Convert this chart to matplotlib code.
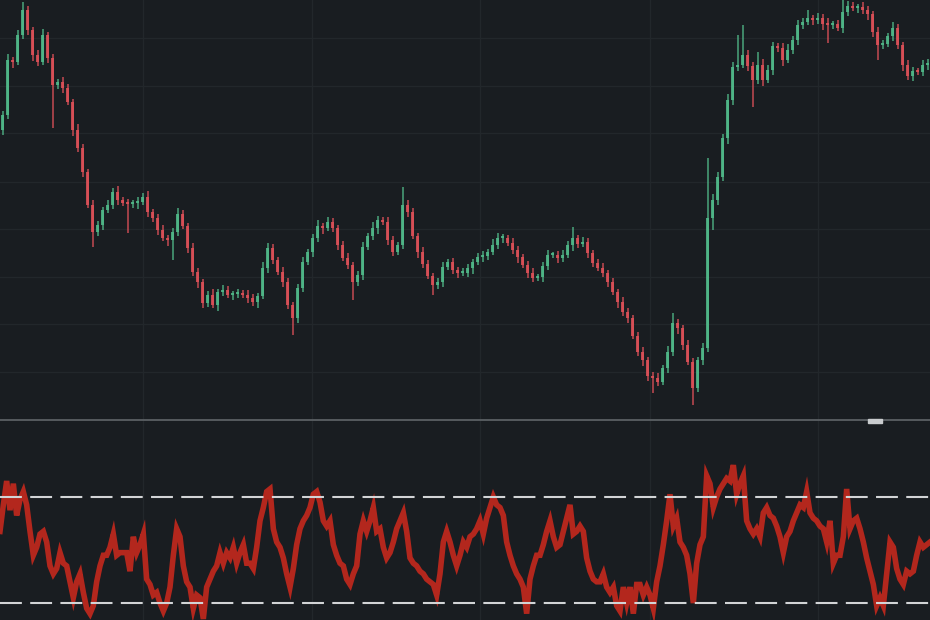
import matplotlib
matplotlib.use("Agg")
import matplotlib.pyplot as plt
import numpy as np

# price closes (arbitrary units)
first_open = 290
closes = [305, 360, 358, 385, 410, 390, 365, 358, 385, 362,
          335, 338, 332, 318, 290, 272, 248, 215, 188, 195,
          210, 215, 228, 220, 217, 216, 217, 218, 223, 208,
          202, 190, 182, 180, 188, 206, 194, 172, 148, 138,
          117, 125, 115, 128, 130, 125, 126, 127, 125, 122,
          118, 124, 152, 172, 160, 148, 138, 115, 102, 132,
          158, 168, 182, 194, 192, 198, 192, 175, 162, 155,
          138, 145, 173, 184, 192, 200, 198, 180, 168, 175,
          215, 208, 184, 168, 156, 144, 135, 138, 153, 158,
          150, 147, 147, 152, 158, 163, 164, 168, 175, 182,
          182, 177, 170, 163, 155, 147, 142, 143, 154, 165,
          165, 162, 165, 175, 182, 176, 178, 167, 157, 152,
          147, 138, 128, 118, 108, 102, 84, 68, 60, 44,
          42, 38, 52, 68, 97, 92, 75, 58, 32, 60,
          72, 202, 220, 243, 282, 320, 353, 355, 365, 354,
          340, 355, 340, 350, 374, 372, 360, 370, 380, 395,
          398, 402, 400, 402, 396, 395, 396, 392, 408, 414,
          412, 413, 410, 406, 388, 375, 376, 384, 392, 375,
          355, 344, 349, 348, 355, 357]

# wick length above / below the body
wick_up = [4, 6, 3, 5, 8, 4, 3, 5, 6, 3,
           4, 3, 5, 4, 3, 6, 4, 3, 5, 4,
           3, 5, 4, 6, 3, 4, 3, 5, 4, 6,
           3, 4, 5, 3, 4, 6, 4, 3, 5, 4,
           3, 4, 6, 3, 5, 4, 3, 4, 3, 5,
           4, 3, 6, 5, 4, 3, 5, 4, 3, 4,
           5, 3, 4, 6, 3, 5, 4, 3, 4, 5,
           3, 4, 5, 3, 6, 4, 3, 5, 4, 3,
           18, 5, 4, 3, 5, 4, 3, 4, 5, 3,
           4, 3, 5, 4, 3, 4, 5, 3, 6, 5,
           4, 3, 5, 4, 3, 4, 5, 3, 4, 5,
           3, 4, 5, 4, 11, 3, 5, 4, 3, 4,
           5, 3, 4, 3, 5, 4, 3, 4, 5, 3,
           4, 5, 3, 6, 10, 4, 3, 5, 4, 3,
           5, 60, 6, 5, 4, 6, 5, 30, 30, 5,
           4, 13, 6, 5, 4, 3, 5, 6, 4, 5,
           4, 8, 3, 5, 4, 6, 3, 4, 12, 5,
           4, 3, 5, 4, 3, 5, 4, 3, 6, 4,
           3, 5, 4, 3, 5, 4]
wick_dn = [5, 4, 6, 3, 4, 5, 6, 4, 3, 5,
           43, 4, 5, 3, 6, 4, 5, 3, 15, 4,
           5, 3, 4, 5, 3, 29, 4, 6, 3, 5,
           4, 5, 3, 6, 20, 4, 3, 5, 4, 6,
           5, 4, 3, 6, 4, 3, 5, 4, 3, 5,
           4, 6, 3, 5, 4, 3, 5, 4, 17, 5,
           4, 3, 5, 4, 6, 3, 4, 5, 3, 4,
           18, 4, 5, 3, 4, 6, 3, 5, 4, 3,
           4, 5, 3, 6, 4, 3, 10, 4, 5, 3,
           4, 5, 3, 4, 6, 3, 5, 4, 3, 4,
           5, 3, 4, 6, 3, 5, 4, 3, 5, 4,
           3, 5, 4, 3, 6, 4, 3, 5, 4, 3,
           4, 5, 3, 6, 4, 5, 3, 4, 6, 5,
           15, 4, 3, 5, 4, 6, 5, 3, 17, 4,
           5, 4, 12, 5, 4, 6, 5, 4, 3, 5,
           27, 4, 6, 3, 5, 4, 6, 3, 4, 5,
           4, 3, 5, 4, 6, 18, 4, 3, 5, 4,
           3, 5, 4, 6, 5, 15, 4, 3, 5, 4,
           6, 4, 5, 3, 4, 5]

# oscillator (RSI) values, evenly spaced across the chart
rsi = [57, 67, 76, 65, 75, 63, 69, 72, 67, 57, 48, 51, 56, 57, 53, 44, 41, 43, 49, 45,
       44, 38, 32, 38, 41, 34, 28, 26, 29, 38, 44, 48, 48, 51, 56, 48, 49, 49, 49, 42,
       55, 49, 52, 56, 39, 37, 33, 34, 30, 27, 30, 36, 48, 58, 55, 44, 38, 36, 28, 33,
       32, 24, 36, 39, 42, 44, 49, 45, 49, 47, 51, 45, 49, 52, 45, 45, 43, 51, 61, 66,
       72, 73, 58, 53, 51, 47, 41, 36, 43, 52, 58, 61, 63,
       66, 71, 72, 68, 61, 59, 61, 52, 48, 45, 44, 39, 37, 41, 44, 56, 61, 57, 61, 66,
       57, 58, 51, 47, 49, 53, 58, 61, 64, 57, 47, 45, 44, 42, 41, 39, 38, 37, 33, 41,
       53, 57, 53, 48, 44, 48, 53, 51, 55, 56, 58, 61, 56, 62, 66, 70, 67, 66, 63, 53,
       48, 44, 41, 39, 36, 26, 39, 44, 48, 48, 52, 57, 61, 55, 51, 52, 57, 62, 67, 56,
       57, 59, 57, 47, 42, 39, 38, 38, 41, 36, 34, 36, 29,
       27, 36, 30, 36, 26, 37, 37, 33, 36, 33, 28, 38, 44, 52, 61, 71, 59, 62, 53, 51,
       48, 41, 30, 45, 52, 55, 78, 75, 66, 70, 73, 75, 77, 76, 82, 71, 75, 78, 61, 58,
       56, 58, 55, 64, 66, 63, 62, 59, 55, 49, 55, 57, 61, 64, 67, 66, 72, 64, 62, 61,
       59, 58, 53, 61, 45, 48, 48, 55, 73, 58, 61, 62, 58, 53, 47, 42, 37, 29, 32, 29,
       41, 53, 51, 43, 39, 37, 42, 41, 42, 48, 53, 51, 52, 53]
rsi_upper = 70
rsi_lower = 30

bg = "#191d21"
grid_c = "#22272b"
up_c = "#52bd8c"
dn_c = "#e2525a"

closes = np.array(closes, dtype=float)
opens = np.concatenate([[first_open], closes[:-1]])
highs = np.maximum(opens, closes) + np.array(wick_up)
lows = np.minimum(opens, closes) - np.array(wick_dn)
idx = np.arange(len(closes))
colors = [up_c if c >= o else dn_c for o, c in zip(opens, closes)]

fig = plt.figure(figsize=(9.3, 6.2), dpi=100, facecolor=bg)
ax = fig.add_axes([0, 200 / 620, 1, 420 / 620], facecolor=bg)
ax2 = fig.add_axes([0, 0, 1, 200 / 620], facecolor=bg)

# grid
vx = [28.1, 61.9, 95.5, 129.5, 163.1]
for a in (ax, ax2):
    for v in vx:
        a.axvline(v, color=grid_c, lw=1.0, zorder=0)
for h in [48, 96, 143, 191, 238, 287, 334, 382]:
    ax.axhline(h, color=grid_c, lw=1.0, zorder=0)

# candles
ax.vlines(idx, lows, highs, colors=colors, lw=1.1, alpha=0.85, zorder=2)
body = np.abs(closes - opens)
body = np.where(body < 2, 2, body)
ax.bar(idx, body, bottom=np.minimum(opens, closes), width=0.75,
       color=colors, alpha=0.85, lw=0, zorder=3)
ax.set_xlim(-0.5, len(closes) - 0.5)
ax.set_ylim(0, 420)

# oscillator
rx = np.linspace(-0.5, len(closes) - 0.5, len(rsi))
ax2.plot(rx, rsi, color="#b3271d", lw=4.0, solid_joinstyle="miter", zorder=3)
for lvl in (rsi_upper, rsi_lower):
    ax2.axhline(lvl, color="#d2d4d6", lw=1.5, linestyle=(0, (10.5, 4.0)), zorder=4)
ax2.set_xlim(-0.5, len(closes) - 0.5)
ax2.set_ylim(23.6, 99)

for a in (ax, ax2):
    a.set_xticks([])
    a.set_yticks([])
    for s in a.spines.values():
        s.set_visible(False)

# pane separator and handle
ax2.spines["top"].set_visible(True)
ax2.spines["top"].set_color("#5b6064")
ax2.spines["top"].set_linewidth(1.3)
fig.add_artist(plt.Rectangle((868 / 930, 1 - 423 / 620), 14 / 930, 4 / 620,
                             transform=fig.transFigure, color="#c9ccce", zorder=10))

fig.savefig("out.png", dpi=100, facecolor=bg)
